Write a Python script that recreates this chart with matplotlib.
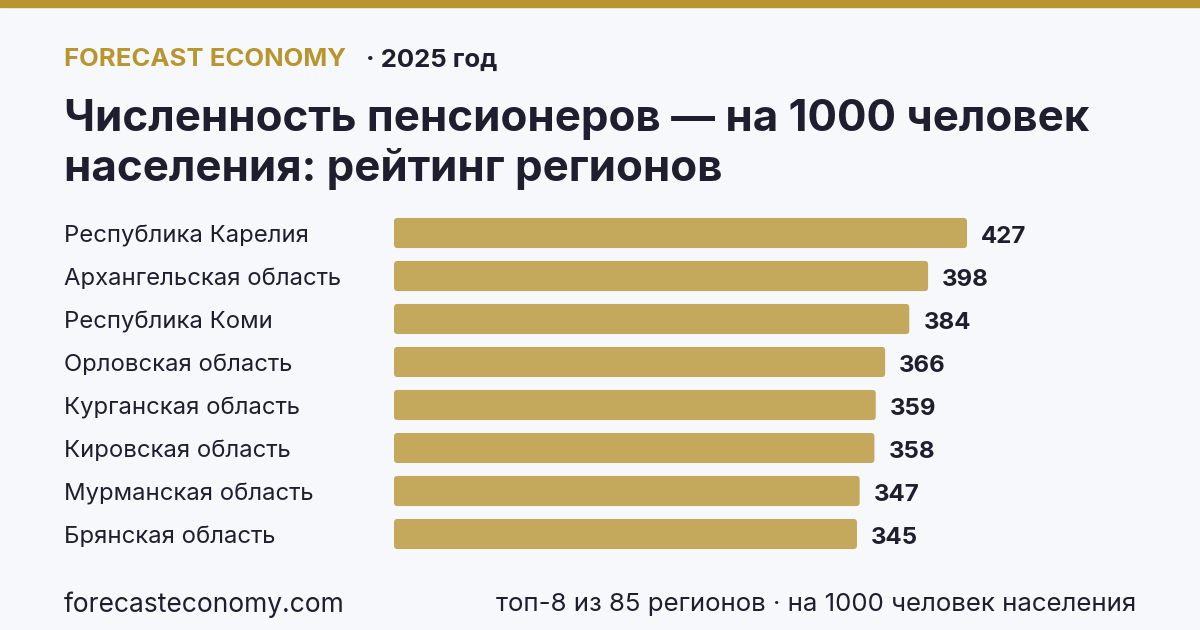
import matplotlib
matplotlib.use("Agg")
import matplotlib.pyplot as plt
import matplotlib.transforms as mtransforms
from matplotlib.patches import FancyBboxPatch, Rectangle

regions = ["Республика Карелия", "Архангельская область", "Республика Коми",
           "Орловская область", "Курганская область", "Кировская область",
           "Мурманская область", "Брянская область"]
values = [427, 398, 384, 366, 359, 358, 347, 345]

BG = "#f7f8fc"
GOLD = "#b8952e"
BAR = "#c4a85c"
DARK = "#1e1e2e"

plt.rcParams['font.family'] = ['Inter', 'DejaVu Sans']

W, H = 1200, 630
fig = plt.figure(figsize=(12, 6.3), dpi=100, facecolor=BG)

# top stripe
fig.patches.append(Rectangle((0, 1 - 7 / H), 1, 7 / H, transform=fig.transFigure,
                             color=GOLD, zorder=0))

# header
fig.text(64 / W, 1 - 60 / H, "FORECAST ECONOMY", color=GOLD, fontsize=18.5,
         fontweight="bold", va="center", ha="left")
fig.text(366 / W, 1 - 60 / H, "· 2025 год", color=DARK, fontsize=18.5,
         fontweight="bold", va="center", ha="left")
fig.text(64 / W, 1 - 119 / H, "Численность пенсионеров — на 1000 человек",
         color=DARK, fontsize=31.6, fontweight="bold", va="center", ha="left")
fig.text(64 / W, 1 - 169 / H, "населения: рейтинг регионов",
         color=DARK, fontsize=31.6, fontweight="bold", va="center", ha="left")

# bar area
px_per_unit = 573 / 427
x0, x1 = 394, 1136
y_top, step = 211.5, 43
n = len(values)
ax = fig.add_axes([x0 / W, 1 - (y_top + n * step) / H, (x1 - x0) / W, n * step / H])
ax.set_facecolor(BG)
ax.set_xlim(0, (x1 - x0) / px_per_unit)
ax.set_ylim(n - 0.5, -0.5)
ax.axis("off")

bars = ax.barh(range(n), values, height=0.7, color=BAR)
r_px = 3.5
for b in bars:
    b.set_visible(False)
    rs = r_px / px_per_unit
    fb = FancyBboxPatch((b.get_x(), b.get_y()), b.get_width(), b.get_height(),
                        boxstyle=f"round,pad=0,rounding_size={rs}",
                        mutation_aspect=(r_px / step) / rs,
                        facecolor=BAR, edgecolor="none")
    ax.add_patch(fb)

trans = mtransforms.blended_transform_factory(fig.transFigure, ax.transData)
for i, (name, v) in enumerate(zip(regions, values)):
    ax.text(64 / W, i + 0.08, name, transform=trans, color=DARK, fontsize=17.2,
            va="center", ha="left")
    ax.text(v + 10.5, i + 0.1, str(v), color=DARK, fontsize=17.3,
            fontweight="bold", va="center", ha="left")

# footer
fig.text(64 / W, 1 - 605 / H, "forecasteconomy.com", color=DARK, fontsize=19,
         va="center", ha="left")
fig.text(1136 / W, 1 - 605 / H, "топ-8 из 85 регионов · на 1000 человек населения",
         color=DARK, fontsize=18.6, va="center", ha="right")

fig.savefig("out.png", dpi=100, facecolor=BG)
